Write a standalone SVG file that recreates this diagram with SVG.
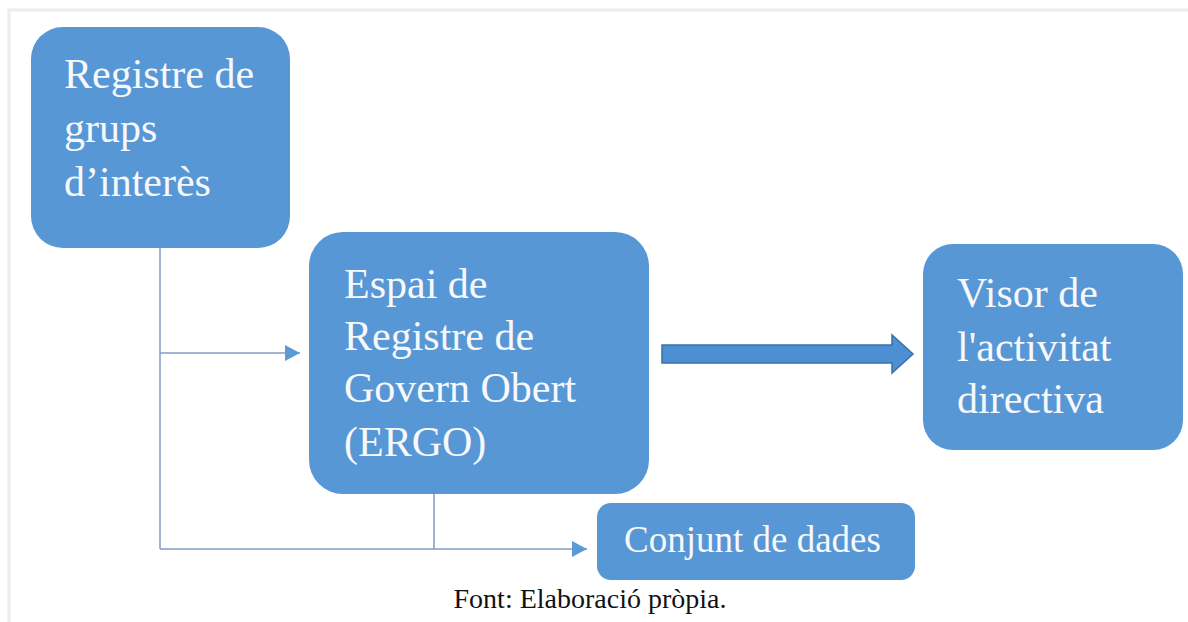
<svg xmlns="http://www.w3.org/2000/svg" width="1188" height="622" viewBox="0 0 1188 622">
<style>
.node{fill:#5797d6;}
.lbl{font-family:"Liberation Serif","Times New Roman",serif;fill:#f7f8fa;font-size:42px;}
.conn{stroke:#7f9cc0;stroke-width:1.5;fill:none;}
.cap{font-family:"Liberation Serif","Times New Roman",serif;fill:#111;font-size:28px;}
</style>
<defs>
<marker id="ah" markerUnits="userSpaceOnUse" markerWidth="16" markerHeight="16" refX="15" refY="8" orient="auto">
<path d="M0,0 L15,8 L0,16 Z" fill="#5b9bd5"/>
</marker>
</defs>
<rect x="0" y="0" width="1188" height="622" fill="#ffffff"/>
<path d="M9,622 L9,10 L1188,10" fill="none" stroke="#ececec" stroke-width="3"/>
<g id="connectors">
<line class="conn" x1="160" y1="248" x2="160" y2="549"/>
<line class="conn" x1="160" y1="353" x2="300" y2="353" marker-end="url(#ah)"/>
<line class="conn" x1="160" y1="549" x2="587" y2="549" marker-end="url(#ah)"/>
<line class="conn" x1="434" y1="494" x2="434" y2="549"/>
<path d="M662,345 L892,345 L892,335 L913,354 L892,373 L892,363 L662,363 Z" fill="#4d8fd3" stroke="#3b6fa6" stroke-width="1.5"/>
</g>
<g id="node-registre">
<rect class="node" x="31" y="27" width="259" height="221" rx="32"/>
<text class="lbl" x="64" y="88">Registre de</text>
<text class="lbl" x="64" y="142">grups</text>
<text class="lbl" x="64" y="196">d’interès</text>
</g>
<g id="node-ergo">
<rect class="node" x="309" y="232" width="340" height="262" rx="34"/>
<text class="lbl" x="344" y="298">Espai de</text>
<text class="lbl" x="344" y="350">Registre de</text>
<text class="lbl" x="344" y="402">Govern Obert</text>
<text class="lbl" x="344" y="456">(ERGO)</text>
</g>
<g id="node-visor">
<rect class="node" x="923" y="244" width="260" height="206" rx="30"/>
<text class="lbl" x="957" y="307">Visor de</text>
<text class="lbl" x="957" y="361">l'activitat</text>
<text class="lbl" x="957" y="413">directiva</text>
</g>
<g id="node-conjunt">
<rect class="node" x="597" y="503" width="318" height="77" rx="14"/>
<text class="lbl" x="624" y="552" style="font-size:37px">Conjunt de dades</text>
</g>
<text class="cap" x="590" y="608" text-anchor="middle">Font: Elaboració pròpia.</text>
</svg>
